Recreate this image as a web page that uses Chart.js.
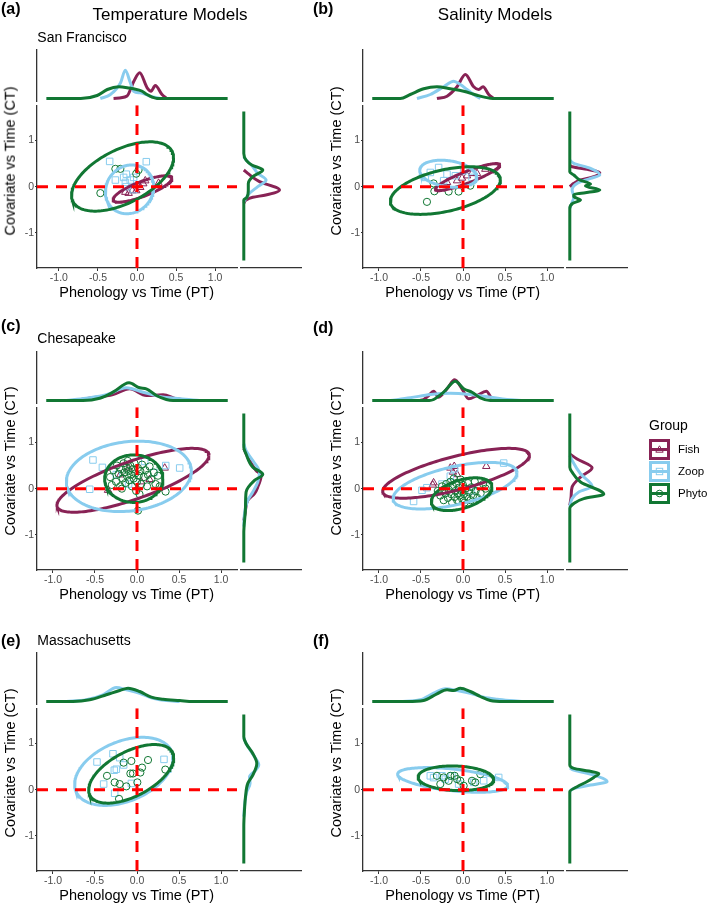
<!DOCTYPE html>
<html><head><meta charset="utf-8">
<script src="https://cdn.jsdelivr.net/npm/chart.js@4.4.0/dist/chart.umd.min.js"></script>
<style>
html,body{margin:0;padding:0;background:#fff;}
body{width:709px;height:907px;position:relative;overflow:hidden;font-family:"Liberation Sans",Arial,sans-serif;}
.box{position:absolute;}
.txt{position:absolute;white-space:nowrap;line-height:1;color:#000;}
</style></head><body>
<script>
// ---------------- shared labels / groups ----------------
const groups = ['Fish', 'Zoop', 'Phyto'];
const groupColors = ['#882255', '#88CCEE', '#117733'];
const groupShapes = ['triangle', 'rect', 'circle'];
const xTicks = [-1, -0.5, 0, 0.5, 1];
const xTickLabels = ['-1.0', '-0.5', '0.0', '0.5', '1.0'];
const yTicks = [-1, 0, 1];
const yTickLabels = ['-1', '0', '1'];
const xLimA = [-1.28, 1.28];
const xLimOther = [-1.19, 1.19];
const yLim = [-1.76, 1.76];
const panelLetters = ['(a)', '(b)', '(c)', '(d)', '(e)', '(f)'];
const columnTitles = ['Temperature Models', 'Salinity Models'];
const siteNames = ['San Francisco', 'Chesapeake', 'Massachusetts'];

// ---------------- (a) San Francisco, temperature ----------------
const fishA  = [[-0.107,-0.143],[-0.06,-0.086],[0.042,-0.015],[0.08,0.064],[0.276,0.075],[-0.009,-0.086],[0.106,0.128],[-0.15,-0.12]];
const zoopA  = [[-0.35,0.546],[0.119,0.54],[-0.277,0.143],[-0.171,0.2],[-0.149,0.092],[-0.086,0.143],[-0.043,0.2],[-0.137,0.27],[-0.14,0.0],[-0.047,-0.064]];
const phytoA = [[-0.277,0.385],[-0.213,0.385],[-0.01,0.28],[0.02,0.36],[-0.469,-0.14]];
const ellFishA  = [0.07,-0.05,0.377,0.286,0.8];
const ellZoopA  = [-0.096,-0.058,0.309,0.528,0.1];
const ellPhytoA = [-0.185,0.22,0.653,0.75,0.54];
const topPhytoA = [[-1.16,0],[-0.72,0],[-0.51,0.3],[-0.38,0.9],[-0.234,1.17],[-0.1,1.05],[-0.043,0.97],[0.06,0.75],[0.128,0.4],[0.2,0.12],[0.256,0],[1.16,0]];
const topZoopA  = [[-0.47,0],[-0.34,0.4],[-0.21,1.57],[-0.15,2.83],[-0.085,1.57],[-0.043,0.73],[0.04,0.57],[0.17,0.23],[0.3,0]];
const topFishA  = [[-0.3,0],[-0.13,0.23],[-0.04,1.73],[0.034,2.57],[0.13,1.07],[0.18,0.73],[0.234,1.3],[0.32,0.4],[0.38,0]];
const rightPhytoA = [[-1.6,0],[-0.3,0],[-0.25,0.3],[-0.1,0.45],[0.05,0.45],[0.2,0.9],[0.343,1.9],[0.45,0.8],[0.55,0.25],[0.7,0],[1.6,0]];
const rightZoopA  = [[-0.34,0],[-0.26,0.23],[-0.157,0.57],[-0.014,1.4],[0.129,2.23],[0.271,1.4],[0.414,0.9],[0.557,0.23],[0.63,0]];
const rightFishA  = [[-0.37,0],[-0.3,0.23],[-0.243,0.9],[-0.193,2.2],[-0.086,3.57],[0.093,1.57],[0.271,0.4],[0.343,0]];

// ---------------- (b) San Francisco, salinity ----------------
const fishB  = [[-0.19,0.093],[-0.071,0.129],[0.048,0.236],[0.167,0.286],[0.266,0.379],[-0.012,0.186],[0.107,0.286]];
const zoopB  = [[-0.389,0.307],[-0.29,0.414],[-0.19,0.271],[-0.091,0.236],[0.008,0.343],[0.107,0.2],[-0.23,0.129],[-0.448,0.2]];
const phytoB = [[-0.341,-0.1],[-0.171,-0.107],[-0.052,-0.107],[-0.429,-0.329],[0.087,0.021],[-0.35,0.07]];
const ellFishB  = [0.054,0.207,0.383,0.293,0.89];
const ellZoopB  = [-0.175,0.279,0.34,0.293,-0.25];
const ellPhytoB = [-0.21,-0.085,0.655,0.515,0.45];
const topPhytoB = [[-1.08,0],[-0.746,0],[-0.627,0.4],[-0.468,0.97],[-0.31,1.17],[-0.151,0.97],[0.008,0.73],[0.167,0.33],[0.325,0.03],[0.405,0],[1.08,0]];
const topZoopB  = [[-0.548,0],[-0.389,0.4],[-0.23,1.17],[-0.111,1.73],[-0.032,1.4],[0.048,0.9],[0.127,0.4],[0.206,0]];
const topFishB  = [[-0.31,0],[-0.19,0.23],[-0.071,1.17],[0.028,2.4],[0.127,1.17],[0.187,0.9],[0.238,1.17],[0.306,0.4],[0.365,0]];
const rightPhytoB = [[-1.6,0],[-0.48,0],[-0.37,0.3],[-0.3,1.07],[-0.229,0.4],[-0.19,0.4],[-0.086,3.0],[0.0,1.57],[0.043,2.07],[0.129,1.0],[0.236,0.4],[0.3,0],[1.6,0]];
const rightZoopB  = [[-0.48,0],[-0.407,0.13],[-0.229,0.4],[-0.086,0.23],[0.057,0.73],[0.164,2.07],[0.236,3.0],[0.379,2.07],[0.486,0.4],[0.557,0]];
const rightFishB  = [[-0.014,0],[0.057,0.4],[0.129,1.07],[0.2,2.4],[0.286,3.0],[0.343,2.07],[0.414,0.23],[0.45,0]];

// ---------------- (c) Chesapeake, temperature ----------------
const fishC  = [[0.33,0.447],[-0.345,-0.034],[-0.2,0.3],[0.05,0.15],[-0.1,0.45],[0.15,0.2]];
const zoopC  = [[-0.524,0.62],[-0.412,0.46],[0.342,0.5],[0.508,0.447],[-0.563,-0.013],[0.092,0.589],[-0.246,0.305],[-0.1,0.1],[0.2,0.35]];
const phytoC = [[-0.32,0.25],[-0.28,0.4],[-0.25,0.15],[-0.24,0.5],[-0.22,0.32],[-0.2,0.05],[-0.19,0.42],[-0.17,0.22],[-0.16,0.55],[-0.15,0.35],[-0.14,0.12],[-0.13,0.45],[-0.12,0.28],[-0.11,0.6],[-0.1,0.38],[-0.09,0.18],[-0.08,0.5],[-0.07,0.3],[-0.06,0.05],[-0.05,0.42],[-0.04,0.22],[-0.03,0.55],[-0.02,0.33],[-0.01,-0.05],[0.0,0.15],[0.01,0.45],[0.02,0.28],[0.03,-0.12],[0.04,0.38],[0.05,0.1],[0.06,0.52],[0.08,0.25],[0.1,0.4],[0.12,0.05],[0.13,0.3],[0.15,0.48],[0.17,0.2],[0.2,0.35],[0.22,0.1],[0.25,0.28],[0.012,-0.475],[-0.18,0.0],[0.27,0.05],[-0.3,0.08],[0.34,-0.064]];
const ellFishC  = [-0.048,0.181,0.905,0.691,0.78];
const ellZoopC  = [-0.097,0.266,0.744,0.762,0.15];
const ellPhytoC = [-0.038,0.216,0.347,0.514,0.0];
const topPhytoC = [[-1.08,0],[-0.643,0],[-0.444,0.23],[-0.286,0.83],[-0.095,1.77],[0.032,1.27],[0.111,1.17],[0.23,0.5],[0.349,0.1],[0.429,0],[1.08,0]];
const topZoopC  = [[-0.841,0],[-0.603,0.23],[-0.365,0.57],[-0.127,1.27],[0.071,0.83],[0.27,0.4],[0.508,0.17],[0.746,0]];
const topFishC  = [[-0.762,0],[-0.524,0.27],[-0.286,0.6],[-0.087,1.17],[0.111,0.5],[0.31,0.57],[0.468,0.17],[0.627,0]];
const rightPhytoC = [[-1.6,0],[-0.97,0],[-0.404,0.17],[-0.085,0.23],[0.163,1.07],[0.291,1.9],[0.447,0.9],[0.73,0.23],[0.872,0],[1.6,0]];
const rightZoopC  = [[-0.83,0],[-0.546,0.07],[-0.262,0.4],[-0.085,0.9],[0.128,1.4],[0.34,1.57],[0.589,0.9],[0.8,0.23],[0.95,0]];
const rightFishC  = [[-0.7,0],[-0.546,0.13],[-0.262,0.4],[-0.12,1.07],[0.021,1.4],[0.27,1.73],[0.376,1.23],[0.66,0.4],[0.85,0]];

// ---------------- (d) Chesapeake, salinity ----------------
const fishD  = [[-0.35,0.128],[-0.151,0.447],[-0.104,0.483],[0.277,0.483],[-0.071,0.306],[-0.36,0.08],[-0.12,0.36]];
const zoopD  = [[-0.488,-0.035],[-0.588,-0.277],[-0.151,0.27],[-0.1,0.43],[0.484,0.553],[-0.43,0.02],[0.1,-0.05],[-0.25,0.1]];
const phytoD = [[-0.3,-0.05],[-0.27,-0.15],[-0.25,0.05],[-0.23,-0.25],[-0.21,-0.1],[-0.2,0.1],[-0.18,-0.2],[-0.17,-0.02],[-0.15,0.15],[-0.14,-0.12],[-0.13,-0.3],[-0.12,0.05],[-0.1,-0.18],[-0.09,-0.05],[-0.08,0.12],[-0.07,-0.25],[-0.06,-0.1],[-0.05,0.02],[-0.04,-0.15],[-0.03,0.2],[-0.02,-0.05],[-0.01,-0.22],[0.0,0.08],[0.01,-0.12],[0.02,-0.3],[0.03,0.0],[0.05,-0.18],[0.06,0.12],[0.07,-0.08],[0.09,-0.25],[0.1,0.03],[0.12,-0.15],[0.14,0.15],[0.15,-0.05],[0.17,-0.2],[0.19,0.05],[0.21,-0.1],[0.24,0.1],[0.27,0.0],[-0.11,0.22]];
const ellFishD  = [-0.083,0.333,0.873,0.539,0.72];
const ellZoopD  = [-0.095,0.064,0.738,0.504,0.55];
const ellPhytoD = [-0.016,-0.12,0.361,0.355,0.45];
const topPhytoD = [[-1.08,0],[-0.4,0],[-0.349,0.1],[-0.23,0.83],[-0.091,1.93],[0.008,1.17],[0.107,0.83],[0.206,0.27],[0.325,0],[1.08,0]];
const topZoopD  = [[-0.865,0],[-0.627,0.27],[-0.389,0.6],[-0.151,0.73],[0.087,0.6],[0.325,0.33],[0.524,0.1],[0.722,0]];
const topFishD  = [[-0.52,0],[-0.468,0.1],[-0.409,0.5],[-0.349,0.93],[-0.29,0.33],[-0.19,1.17],[-0.099,2.07],[-0.012,1.17],[0.067,0.17],[0.167,0.5],[0.278,0.93],[0.345,0.17],[0.405,0]];
const rightPhytoD = [[-1.6,0],[-0.44,0],[-0.333,0.4],[-0.227,1.4],[-0.135,3.4],[0.128,1.07],[0.34,0.23],[0.447,0],[1.6,0]];
const rightZoopD  = [[-0.404,0],[-0.227,0.23],[-0.085,0.9],[0.035,2.23],[0.305,1.07],[0.589,0.23],[0.7,0]];
const rightFishD  = [[-0.369,0],[-0.19,0.13],[0.021,0.23],[0.234,1.07],[0.433,2.23],[0.624,0.73],[0.73,0]];

// ---------------- (e) Massachusetts, temperature ----------------
const zoopE  = [[-0.476,0.598],[-0.286,0.776],[-0.397,0.121],[-0.266,-0.078],[-0.206,0.691],[-0.246,0.442],[0.321,0.655],[-0.067,0.135],[-0.159,0.534],[-0.27,0.42]];
const phytoE = [[-0.357,0.299],[-0.159,0.584],[-0.067,0.62],[-0.266,0.157],[-0.206,0.121],[-0.127,0.071],[-0.079,0.349],[-0.048,0.349],[0.06,0.477],[0.131,0.641],[0.337,0.434],[0.004,0.157],[-0.214,-0.199],[0.04,0.37]];
const ellZoopE  = [-0.157,0.395,0.585,0.737,0.38];
const ellPhytoE = [-0.069,0.342,0.506,0.634,0.55];
const topPhytoE = [[-1.08,0],[-0.762,0],[-0.563,0.17],[-0.365,0.67],[-0.206,1.1],[-0.107,1.33],[0.032,1.0],[0.171,0.43],[0.31,0.23],[0.508,0.1],[0.667,0],[1.08,0]];
const topZoopE  = [[-0.841,0],[-0.603,0.17],[-0.405,0.67],[-0.246,1.4],[-0.127,1.17],[0.032,0.83],[0.19,0.33],[0.349,0.1],[0.508,0]];
const rightPhytoE = [[-1.6,0],[-0.805,0],[-0.449,0.07],[-0.164,0.17],[0.121,0.4],[0.299,0.9],[0.548,1.3],[0.762,0.9],[0.976,0.23],[1.118,0],[1.6,0]];
const rightZoopE  = [[-0.591,0],[-0.306,0.1],[-0.057,0.3],[0.121,0.63],[0.264,0.57],[0.406,1.2],[0.513,1.5],[0.691,1.07],[0.976,0.23],[1.1,0]];

// ---------------- (f) Massachusetts, salinity ----------------
const zoopF  = [[-0.389,0.299],[-0.35,0.26],[-0.21,0.228],[-0.131,0.299],[-0.052,0.121],[0.127,0.157],[0.246,0.192],[0.425,0.264],[-0.25,0.3]];
const phytoF = [[-0.31,0.299],[-0.23,0.264],[-0.151,0.299],[-0.071,0.228],[-0.032,0.192],[0.008,0.085],[0.107,0.192],[0.147,0.157],[0.206,0.335],[-0.27,0.121],[-0.171,0.192],[-0.1,0.3]];
const ellZoopF  = [-0.123,0.21,0.655,0.267,-0.47];
const ellPhytoF = [-0.085,0.246,0.45,0.267,-0.1];
const topPhytoF = [[-1.08,0],[-0.667,0],[-0.468,0.1],[-0.31,0.77],[-0.19,1.17],[-0.111,1.1],[-0.032,1.33],[0.087,1.0],[0.206,0.5],[0.325,0.1],[0.484,0],[1.08,0]];
const topZoopF  = [[-0.746,0],[-0.508,0.17],[-0.349,0.83],[-0.21,1.27],[-0.071,1.1],[0.087,0.83],[0.246,0.43],[0.405,0.23],[0.563,0.1],[0.722,0]];
const rightPhytoF = [[-1.6,0],[-0.057,0],[0.05,0.73],[0.157,1.7],[0.249,2.4],[0.335,2.9],[0.385,1.9],[0.442,0.4],[0.513,0],[1.6,0]];
const rightZoopF  = [[-0.057,0],[0.014,0.4],[0.085,2.07],[0.157,3.73],[0.299,2.4],[0.406,0.4],[0.45,0]];

// ---------------- layout (pixels) ----------------
const FONT = "'Liberation Sans', Arial, sans-serif";
Chart.defaults.font.family = FONT;
const colPL = [36.7, 362.7];
const rowPT = [104, 406, 707];
const PW = 200, PH = 164;
const YAX = 34, XAX = 24;
const AXIS = '#333333';

const panels = [
  {xlim:xLimA, pts:[fishA,zoopA,phytoA], ell:[ellFishA,ellZoopA,ellPhytoA], top:[topFishA,topZoopA,topPhytoA], right:[rightFishA,rightZoopA,rightPhytoA]},
  {xlim:xLimOther, pts:[fishB,zoopB,phytoB], ell:[ellFishB,ellZoopB,ellPhytoB], top:[topFishB,topZoopB,topPhytoB], right:[rightFishB,rightZoopB,rightPhytoB]},
  {xlim:xLimOther, pts:[fishC,zoopC,phytoC], ell:[ellFishC,ellZoopC,ellPhytoC], top:[topFishC,topZoopC,topPhytoC], right:[rightFishC,rightZoopC,rightPhytoC]},
  {xlim:xLimOther, pts:[fishD,zoopD,phytoD], ell:[ellFishD,ellZoopD,ellPhytoD], top:[topFishD,topZoopD,topPhytoD], right:[rightFishD,rightZoopD,rightPhytoD]},
  {xlim:xLimOther, pts:[null,zoopE,phytoE], ell:[null,ellZoopE,ellPhytoE], top:[null,topZoopE,topPhytoE], right:[null,rightZoopE,rightPhytoE]},
  {xlim:xLimOther, pts:[null,zoopF,phytoF], ell:[null,ellZoopF,ellPhytoF], top:[null,topZoopF,topPhytoF], right:[null,rightZoopF,rightPhytoF]}
];

function makeCanvas(left, top, w, h) {
  const d = document.createElement('div');
  d.className = 'box';
  d.style.cssText = `left:${left}px;top:${top}px;width:${w}px;height:${h}px;`;
  const c = document.createElement('canvas');
  c.width = w; c.height = h;
  c.style.width = w + 'px'; c.style.height = h + 'px';
  d.appendChild(c);
  document.body.appendChild(d);
  return c;
}
function addText(str, left, top, size, opts) {
  const d = document.createElement('div');
  d.className = 'txt';
  d.textContent = str;
  d.style.left = left + 'px';
  d.style.top = top + 'px';
  d.style.fontSize = size + 'px';
  if (opts && opts.bold) d.style.fontWeight = 'bold';
  if (opts && opts.center) d.style.transform = 'translateX(-50%)';
  if (opts && opts.rotate) d.style.transform = 'translate(-50%,-50%) rotate(-90deg)';
  document.body.appendChild(d);
  return d;
}
function ellipsePoints(p) {
  const [cx, cy, rx, ry, rho] = p;
  const s = Math.sqrt(1 - rho * rho);
  const out = [];
  for (let i = 0; i <= 160; i++) {
    const t = 2 * Math.PI * i / 160;
    out.push({x: cx + rx * Math.cos(t), y: cy + ry * (rho * Math.cos(t) + s * Math.sin(t))});
  }
  return out;
}
const pointRadii = [4.3, 4.6, 3.6];
const baseOpts = {
  responsive: false, animation: false, events: [],
  plugins: {legend: {display: false}, tooltip: {enabled: false}}
};

panels.forEach((p, idx) => {
  const col = idx % 2, row = Math.floor(idx / 2);
  const PL = colPL[col], PT = rowPT[row], PR = PL + PW, PB = PT + PH;

  // ---- main scatter + ellipses ----
  const ds = [];
  ds.push({data:[{x:p.xlim[0],y:0},{x:p.xlim[1],y:0}], borderColor:'#FF0000', borderWidth:3, borderDash:[11,8], pointRadius:0, fill:false});
  ds.push({data:[{x:0,y:yLim[0]},{x:0,y:yLim[1]}], borderColor:'#FF0000', borderWidth:3, borderDash:[11,8], pointRadius:0, fill:false});
  [2,1,0].forEach(g => { if (p.ell[g]) ds.push({data: ellipsePoints(p.ell[g]), borderColor: groupColors[g], borderWidth: 3, pointRadius: 0, tension: 0, fill: false}); });
  [2,1,0].forEach(g => { if (p.pts[g]) ds.push({data: p.pts[g].map(([x,y]) => ({x, y})), showLine: false, pointStyle: groupShapes[g], pointRadius: pointRadii[g], pointBorderColor: groupColors[g], pointBackgroundColor: 'rgba(0,0,0,0)', pointBorderWidth: 1}); });
  const cm = makeCanvas(PL - YAX, PT - 6, YAX + PW + 6, PH + 6 + XAX);
  new Chart(cm, {
    type: 'line', data: {datasets: ds},
    options: Object.assign({}, baseOpts, {
      layout: {padding: {left: 0, right: 6, top: 6, bottom: 0}},
      scales: {
        x: {type: 'linear', min: p.xlim[0], max: p.xlim[1],
            afterBuildTicks: s => { s.ticks = xTicks.map(v => ({value: v})); },
            afterFit: s => { s.height = XAX; },
            ticks: {callback: (v, i) => xTickLabels[i], font: {size: 10.5}, color: '#4D4D4D', padding: 1, maxRotation: 0, autoSkip: false},
            grid: {display: true, drawOnChartArea: false, drawTicks: true, tickLength: 3, color: AXIS, lineWidth: 1},
            border: {display: true, color: AXIS, width: 1.3}},
        y: {type: 'linear', min: yLim[0], max: yLim[1],
            afterBuildTicks: s => { s.ticks = yTicks.map(v => ({value: v})); },
            afterFit: s => { s.width = YAX; },
            ticks: {callback: (v, i) => yTickLabels[i], font: {size: 10.5}, color: '#4D4D4D', padding: 1, autoSkip: false},
            grid: {display: true, drawOnChartArea: false, drawTicks: true, tickLength: 2, color: AXIS, lineWidth: 1},
            border: {display: true, color: AXIS, width: 1.3}}
      }
    })
  });

  // ---- top marginal density ----
  const dsTop = [];
  [2,1,0].forEach(g => { if (p.top[g]) dsTop.push({data: p.top[g].map(([x,d]) => ({x, y: d})), borderColor: groupColors[g], borderWidth: 3, pointRadius: 0, cubicInterpolationMode: 'monotone', fill: false}); });
  const ct = makeCanvas(PL - 2, PT - 56, PW + 4, 55);
  new Chart(ct, {
    type: 'line', data: {datasets: dsTop},
    options: Object.assign({}, baseOpts, {
      layout: {padding: {left: 2, right: 2, top: 2, bottom: 2}},
      scales: {
        x: {type: 'linear', min: p.xlim[0], max: p.xlim[1], display: false},
        y: {type: 'linear', min: -0.25, max: 4.85, display: true,
            ticks: {display: false}, grid: {display: false, drawTicks: false},
            border: {display: true, color: AXIS, width: 1.3},
            afterFit: s => { s.width = 0; }}
      }
    })
  });

  // ---- right marginal density ----
  const dsR = [];
  [2,1,0].forEach(g => { if (p.right[g]) dsR.push({data: p.right[g].map(([y,d]) => ({x: d, y})), borderColor: groupColors[g], borderWidth: 3, pointRadius: 0, cubicInterpolationMode: 'monotone', fill: false}); });
  const cr = makeCanvas(PR + 2, PT - 6, 64, PH + 8);
  new Chart(cr, {
    type: 'line', data: {datasets: dsR},
    options: Object.assign({}, baseOpts, {
      indexAxis: 'y',
      layout: {padding: {left: 2, right: 2, top: 6, bottom: 2}},
      scales: {
        y: {type: 'linear', min: yLim[0], max: yLim[1], display: false},
        x: {type: 'linear', position: 'bottom', min: -0.28, max: 5.72, display: true,
            ticks: {display: false}, grid: {display: false, drawTicks: false},
            border: {display: true, color: AXIS, width: 1.3},
            afterFit: s => { s.height = 0; }}
      }
    })
  });

  // ---- axis titles ----
  addText('Phenology vs Time (PT)', PL + PW / 2, PB + 17.2, 14.5, {center: true});
  const yTitleCenter = [161, 461, 763][row];
  addText('Covariate vs Time (CT)', PL - 26.7, yTitleCenter, 14.5, {rotate: true});
});

// ---- panel letters, column titles, site names ----
const letterTops = [1, 1, 318, 320, 633, 633];
panelLetters.forEach((t, i) => addText(t, (i % 2 === 0) ? 1 : 313, letterTops[i], 16, {bold: true}));
addText(columnTitles[0], 170, 6, 17, {center: true});
addText(columnTitles[1], 495, 6, 17, {center: true});
const siteTops = [30, 331, 633];
siteNames.forEach((t, i) => addText(t, 37.3, siteTops[i], 14));

// ---- legend ----
addText('Group', 649, 418, 14);
const keyTops = [439, 461, 483];
groups.forEach((g, i) => {
  const c = groupColors[i];
  let shape;
  if (i === 0) shape = `<polygon points="10.5,6.8 14.2,13.2 6.8,13.2" fill="none" stroke="${c}" stroke-width="1"/>`;
  else if (i === 1) shape = `<rect x="7.3" y="7.3" width="6.4" height="6.4" fill="none" stroke="${c}" stroke-width="1"/>`;
  else shape = `<circle cx="10.5" cy="10.5" r="3.3" fill="none" stroke="${c}" stroke-width="1"/>`;
  const d = document.createElement('div');
  d.className = 'box';
  d.style.cssText = `left:649px;top:${keyTops[i]}px;width:21px;height:21px;`;
  d.innerHTML = `<svg width="21" height="21" viewBox="0 0 21 21"><rect x="1.5" y="1.5" width="18" height="18" fill="none" stroke="${c}" stroke-width="3"/><line x1="1" y1="10.5" x2="20" y2="10.5" stroke="${c}" stroke-width="3"/>${shape}</svg>`;
  document.body.appendChild(d);
  addText(g, 678, keyTops[i] + 4.5, 11.5);
});
</script>
</body></html>
